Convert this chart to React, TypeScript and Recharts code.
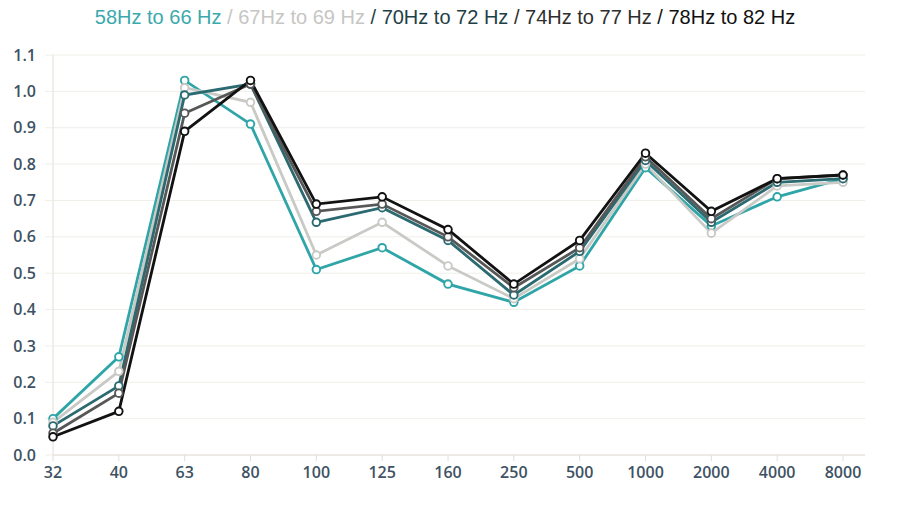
import React from 'react';
import { LineChart, Line, XAxis, YAxis, CartesianGrid } from 'recharts';

const frequencies = ['32', '40', '63', '80', '100', '125', '160', '250', '500', '1000', '2000', '4000', '8000'];

const hz58to66 = [0.1, 0.27, 1.03, 0.91, 0.51, 0.57, 0.47, 0.42, 0.52, 0.79, 0.63, 0.71, 0.76];
const hz67to69 = [0.09, 0.23, 1.01, 0.97, 0.55, 0.64, 0.52, 0.43, 0.54, 0.8, 0.61, 0.74, 0.75];
const hz70to72 = [0.08, 0.19, 0.99, 1.02, 0.64, 0.68, 0.59, 0.44, 0.56, 0.81, 0.64, 0.75, 0.76];
const hz74to77 = [0.06, 0.17, 0.94, 1.02, 0.67, 0.69, 0.6, 0.46, 0.57, 0.82, 0.65, 0.76, 0.77];
const hz78to82 = [0.05, 0.12, 0.89, 1.03, 0.69, 0.71, 0.62, 0.47, 0.59, 0.83, 0.67, 0.76, 0.77];

const yTicks = [0, 0.1, 0.2, 0.3, 0.4, 0.5, 0.6, 0.7, 0.8, 0.9, 1.0, 1.1];

const series = [
  { key: 'a', label: '58Hz to 66 Hz', values: hz58to66, color: '#2fa5a8', text: '#3aa9ac' },
  { key: 'b', label: '67Hz to 69 Hz', values: hz67to69, color: '#c9c9c6', text: '#c6c6c4' },
  { key: 'c', label: '70Hz to 72 Hz', values: hz70to72, color: '#2a6a70', text: '#1f3f47' },
  { key: 'd', label: '74Hz to 77 Hz', values: hz74to77, color: '#575757', text: '#2e2e2e' },
  { key: 'e', label: '78Hz to 82 Hz', values: hz78to82, color: '#121212', text: '#111111' },
];

const data = frequencies.map((f, i) => {
  const row: Record<string, string | number> = { name: f };
  series.forEach((s) => {
    row[s.key] = s.values[i];
  });
  return row;
});

const tickStyle = { fontFamily: 'Open Sans', fontSize: 16, fontWeight: 600, fill: '#3e5263' };

export default function App() {
  return (
    <div style={{ position: 'absolute', top: 0, left: 0, width: 900, height: 511, background: '#fff' }}>
      <div
        style={{
          position: 'absolute',
          top: 6,
          left: 0,
          width: 890,
          textAlign: 'center',
          fontFamily: 'Liberation Sans, Arial',
          fontSize: 20,
          whiteSpace: 'nowrap',
        }}
      >
        {series.map((s, i) => (
          <span key={s.key} style={{ color: s.text }}>
            {i > 0 ? ' / ' : ''}
            {s.label}
          </span>
        ))}
      </div>
      <LineChart width={900} height={511} data={data} margin={{ top: 55, right: 35, left: 0, bottom: 26 }}>
        <CartesianGrid vertical={false} stroke="#f0eee9" />
        <XAxis
          dataKey="name"
          padding={{ left: 0, right: 22 }}
          height={30}
          axisLine={{ stroke: '#e3ded6' }}
          tickLine={{ stroke: '#e3ded6' }}
          tickSize={6}
          tickMargin={6}
          tick={tickStyle}
          interval={0}
        />
        <YAxis
          width={53}
          domain={[0, 1.1]}
          ticks={yTicks}
          tickFormatter={(v: number) => v.toFixed(1)}
          axisLine={{ stroke: '#e3ded6' }}
          tickLine={{ stroke: '#f0eee9' }}
          tickSize={8}
          tickMargin={9}
          tick={tickStyle}
        />
        {series.map((s) => (
          <Line
            key={s.key}
            dataKey={s.key}
            name={s.label}
            type="linear"
            stroke={s.color}
            strokeWidth={2.8}
            dot={{ r: 3.8, fill: '#ffffff', stroke: s.color, strokeWidth: 1.9 }}
            isAnimationActive={false}
          />
        ))}
      </LineChart>
    </div>
  );
}
